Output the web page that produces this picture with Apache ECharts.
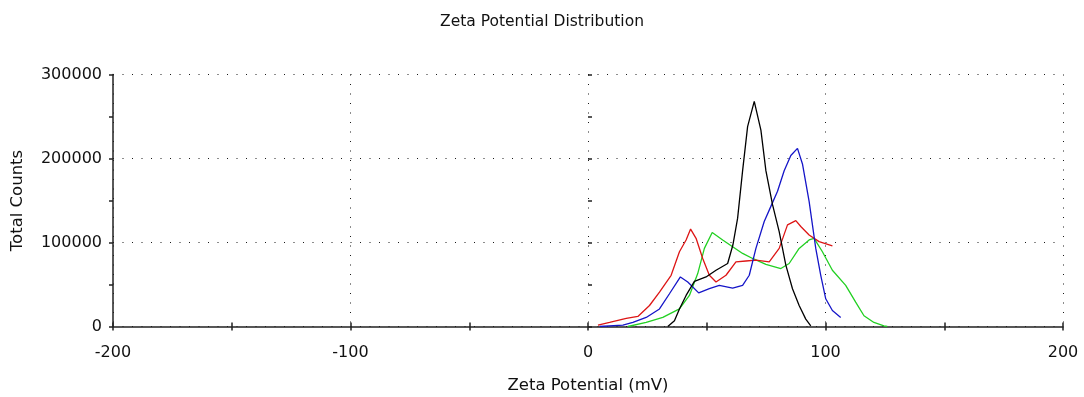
<!DOCTYPE html>
<html>
<head>
<meta charset="utf-8">
<title>Zeta Potential Distribution</title>
<script src="https://cdn.jsdelivr.net/npm/echarts@6/dist/echarts.min.js"></script>
<style>
  html, body { margin: 0; padding: 0; background: #fff; }
  #chart { width: 1084px; height: 397px; }
</style>
</head>
<body>
<div id="chart"></div>
<script>
// Zeta potential (mV) and total counts for each measurement run
const blackX = [33.6, 36.4, 38.5, 41.3, 44.8, 49.7, 53.9, 58.8, 61.0, 63.0, 65.1, 67.2, 70.0, 72.8, 74.9, 77.7, 80.5, 83.3, 86.1, 88.9, 91.7, 93.8];
const blackY = [0, 6800, 20900, 37000, 53800, 59000, 67000, 75000, 97000, 129000, 185500, 238000, 268000, 233700, 185500, 145000, 113000, 73000, 45000, 25000, 8800, 800];

const blueX = [4.9, 14.7, 18.9, 24.5, 30.1, 34.3, 38.9, 42.0, 46.6, 51.1, 55.3, 60.9, 65.1, 67.9, 70.7, 74.2, 77.0, 79.8, 82.6, 85.4, 88.2, 90.3, 93.1, 95.9, 98.0, 100.1, 102.9, 106.4];
const blueY = [0, 1600, 4800, 10800, 20900, 39000, 59000, 53000, 40000, 45000, 49000, 45800, 49000, 61000, 93000, 125000, 143000, 161000, 185500, 203500, 212000, 193500, 149000, 93000, 61000, 33000, 19000, 10800];

const redX = [4.2, 9.1, 16.1, 21.0, 25.9, 30.1, 35.0, 38.5, 41.3, 43.2, 45.5, 48.3, 51.1, 53.9, 58.1, 62.3, 66.5, 70.7, 76.3, 80.5, 84.0, 87.5, 89.6, 93.1, 97.3, 102.9];
const redY = [1600, 4800, 9600, 12000, 25000, 41000, 61000, 89000, 103000, 116000, 105000, 81000, 61000, 53000, 61000, 77000, 78000, 79000, 77000, 93000, 121000, 126000, 119000, 109000, 101000, 96000];

const greenX = [16.8, 24.5, 31.5, 38.5, 42.7, 46.2, 49.0, 52.3, 56.7, 60.9, 65.1, 69.3, 74.9, 81.2, 84.7, 88.9, 93.1, 95.2, 98.7, 102.9, 108.5, 112.7, 116.2, 120.4, 124.6, 126.0];
const greenY = [0, 4800, 10800, 20900, 37000, 63000, 93000, 112000, 103000, 95000, 87000, 81000, 74000, 69000, 75000, 93000, 103000, 105000, 89000, 67000, 49000, 29000, 12800, 4800, 800, 0];

const xTicks = [-200, -100, 0, 100, 200];
const yTicks = [0, 100000, 200000, 300000];

const FONT = 'DejaVu Sans';
const zip = (xs, ys) => xs.map((x, i) => [x, ys[i]]);

const dotted = { color: '#1a1a1a', width: 1, type: [1, 8.5] };
const axisInk = { color: '#222', width: 1.5 };

function xAxisBase(extra) {
  return Object.assign({
    type: 'value', min: -200, max: 200, position: 'bottom',
    axisLine: { show: false }, axisTick: { show: false },
    axisLabel: { show: false }, splitLine: { show: false }
  }, extra);
}
function yAxisBase(extra) {
  return Object.assign({
    type: 'value', min: 0, max: 300000, position: 'left',
    axisLine: { show: false }, axisTick: { show: false },
    axisLabel: { show: false }, splitLine: { show: false }
  }, extra);
}

const chart = echarts.init(document.getElementById('chart'), null, { renderer: 'canvas' });

const lineSeries = (name, xs, ys, color) => ({
  name, type: 'line', data: zip(xs, ys), xAxisIndex: 0, yAxisIndex: 0,
  showSymbol: false, symbol: 'none', smooth: false, animation: false,
  lineStyle: { color, width: 1.3 }
});

chart.setOption({
  backgroundColor: '#fff',
  animation: false,
  title: {
    text: 'Zeta Potential Distribution',
    left: 'center', top: 9,
    textStyle: { fontFamily: FONT, fontSize: 15.5, fontWeight: 'normal', color: '#111' }
  },
  grid: {
    left: 113, right: 21, top: 74.5, bottom: 70.5,
    containLabel: false, outerBoundsMode: 'none'
  },
  xAxis: [
    // main axis: line, labels, outward ticks
    xAxisBase({
      interval: 50,
      name: 'Zeta Potential (mV)', nameLocation: 'middle', nameGap: 51,
      nameTextStyle: { fontFamily: FONT, fontSize: 16.5, color: '#111' },
      axisLine: { show: true, onZero: false, lineStyle: axisInk },
      axisTick: { show: true, length: 4, lineStyle: axisInk },
      axisLabel: {
        show: true, margin: 18, fontFamily: FONT, fontSize: 16, color: '#111',
        formatter: v => xTicks.includes(v) ? String(v) : ''
      }
    }),
    // inward half of the crossing ticks
    xAxisBase({
      interval: 50,
      axisTick: { show: true, inside: true, length: 4, lineStyle: axisInk }
    }),
    // dotted grid every 100 mV
    xAxisBase({ interval: 100, splitLine: { show: true, lineStyle: dotted } })
  ],
  yAxis: [
    yAxisBase({
      interval: 50000,
      name: 'Total Counts', nameLocation: 'middle', nameGap: 87, nameRotate: 90,
      nameTextStyle: { fontFamily: FONT, fontSize: 16.5, color: '#111' },
      axisLine: { show: true, onZero: false, lineStyle: axisInk },
      axisTick: { show: true, length: 4, lineStyle: axisInk },
      axisLabel: {
        show: true, margin: 11, fontFamily: FONT, fontSize: 16, color: '#111',
        formatter: v => yTicks.includes(v) ? String(v) : ''
      }
    }),
    yAxisBase({
      interval: 50000,
      axisTick: { show: true, inside: true, length: 4, lineStyle: axisInk }
    }),
    yAxisBase({ interval: 100000, splitLine: { show: true, lineStyle: dotted } })
  ],
  series: [
    lineSeries('Run 4', greenX, greenY, '#22d022'),
    lineSeries('Run 3', redX, redY, '#dd1515'),
    lineSeries('Run 2', blueX, blueY, '#1515c8'),
    lineSeries('Run 1', blackX, blackY, '#000000')
  ]
});
</script>
</body>
</html>
